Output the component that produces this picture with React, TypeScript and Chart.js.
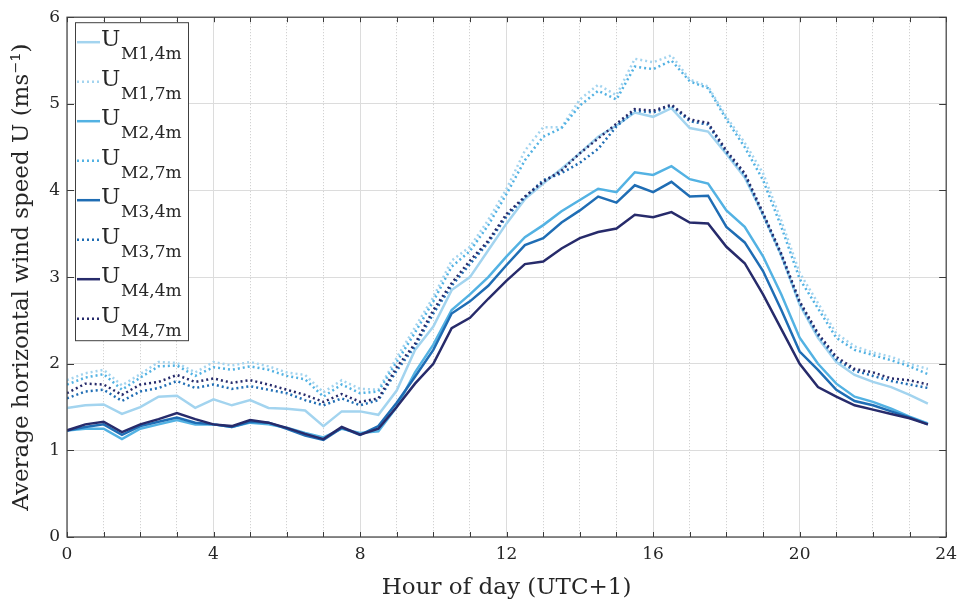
import { useEffect, useRef } from 'react';
import { Chart, registerables } from 'chart.js';

Chart.register(...registerables);

const hours = [0, 0.5, 1, 1.5, 2, 2.5, 3, 3.5, 4, 4.5, 5, 5.5, 6, 6.5, 7, 7.5, 8, 8.5, 9, 9.5, 10, 10.5, 11, 11.5,
  12, 12.5, 13, 13.5, 14, 14.5, 15, 15.5, 16, 16.5, 17, 17.5, 18, 18.5, 19, 19.5, 20, 20.5, 21, 21.5, 22, 22.5, 23, 23.5];

const seriesLabels = ['M1,4m', 'M1,7m', 'M2,4m', 'M2,7m', 'M3,4m', 'M3,7m', 'M4,4m', 'M4,7m'];

const M1_4m = [1.49, 1.52, 1.53, 1.42, 1.50, 1.62, 1.63, 1.49, 1.59, 1.52, 1.58, 1.49, 1.48, 1.46, 1.28, 1.45, 1.45, 1.41,
  1.69, 2.16, 2.43, 2.85, 3.00, 3.31, 3.62, 3.90, 4.08, 4.25, 4.43, 4.62, 4.75, 4.90, 4.85, 4.95, 4.72, 4.68, 4.42, 4.15,
  3.72, 3.25, 2.68, 2.30, 2.02, 1.87, 1.79, 1.73, 1.64, 1.54];
const M1_7m = [1.81, 1.89, 1.93, 1.75, 1.88, 2.02, 2.01, 1.90, 2.02, 1.98, 2.02, 1.97, 1.90, 1.87, 1.67, 1.81, 1.71, 1.70,
  2.07, 2.42, 2.77, 3.19, 3.35, 3.66, 4.02, 4.46, 4.73, 4.73, 5.05, 5.22, 5.10, 5.52, 5.48, 5.56, 5.28, 5.20, 4.85, 4.55,
  4.20, 3.65, 3.05, 2.70, 2.35, 2.20, 2.13, 2.08, 2.00, 1.94];
const M2_4m = [1.23, 1.25, 1.25, 1.13, 1.25, 1.30, 1.35, 1.30, 1.30, 1.27, 1.32, 1.30, 1.26, 1.20, 1.15, 1.25, 1.20, 1.22,
  1.50, 1.90, 2.22, 2.62, 2.80, 3.00, 3.24, 3.46, 3.60, 3.76, 3.89, 4.02, 3.98, 4.21, 4.18, 4.28, 4.13, 4.08, 3.77, 3.58,
  3.24, 2.80, 2.30, 2.00, 1.77, 1.62, 1.56, 1.48, 1.39, 1.31];
const M2_7m = [1.76, 1.84, 1.88, 1.70, 1.84, 1.97, 1.98, 1.86, 1.96, 1.93, 1.97, 1.93, 1.86, 1.82, 1.62, 1.76, 1.66, 1.68,
  2.02, 2.36, 2.72, 3.12, 3.30, 3.60, 3.96, 4.35, 4.62, 4.72, 4.98, 5.15, 5.05, 5.43, 5.40, 5.50, 5.26, 5.18, 4.82, 4.50,
  4.12, 3.58, 2.98, 2.64, 2.30, 2.16, 2.10, 2.04, 1.97, 1.88];
const M3_4m = [1.23, 1.27, 1.30, 1.18, 1.28, 1.33, 1.38, 1.32, 1.30, 1.27, 1.33, 1.32, 1.25, 1.17, 1.12, 1.26, 1.18, 1.28,
  1.55, 1.85, 2.16, 2.58, 2.72, 2.90, 3.14, 3.37, 3.45, 3.63, 3.77, 3.93, 3.86, 4.06, 3.98, 4.10, 3.93, 3.94, 3.58, 3.40,
  3.07, 2.62, 2.14, 1.93, 1.70, 1.57, 1.52, 1.45, 1.38, 1.30];
const M3_7m = [1.60, 1.68, 1.70, 1.57, 1.68, 1.72, 1.80, 1.72, 1.76, 1.71, 1.74, 1.70, 1.66, 1.58, 1.52, 1.60, 1.52, 1.58,
  1.92, 2.20, 2.58, 2.90, 3.15, 3.40, 3.70, 3.92, 4.12, 4.20, 4.32, 4.48, 4.74, 4.92, 4.90, 4.98, 4.80, 4.76, 4.44, 4.18,
  3.72, 3.25, 2.70, 2.33, 2.05, 1.92, 1.86, 1.80, 1.76, 1.72];
const M4_4m = [1.23, 1.30, 1.33, 1.21, 1.30, 1.36, 1.43, 1.36, 1.30, 1.28, 1.35, 1.32, 1.26, 1.19, 1.13, 1.27, 1.18, 1.25,
  1.50, 1.77, 2.00, 2.41, 2.53, 2.75, 2.96, 3.15, 3.18, 3.33, 3.45, 3.52, 3.56, 3.72, 3.69, 3.75, 3.63, 3.62, 3.35, 3.16,
  2.80, 2.40, 2.00, 1.73, 1.62, 1.52, 1.47, 1.42, 1.37, 1.30];
const M4_7m = [1.66, 1.77, 1.76, 1.64, 1.76, 1.79, 1.87, 1.79, 1.83, 1.78, 1.81, 1.76, 1.70, 1.64, 1.56, 1.65, 1.56, 1.60,
  1.96, 2.23, 2.62, 2.93, 3.19, 3.42, 3.73, 3.93, 4.10, 4.23, 4.43, 4.60, 4.77, 4.94, 4.92, 4.99, 4.82, 4.78, 4.46, 4.20,
  3.74, 3.27, 2.72, 2.35, 2.08, 1.94, 1.90, 1.83, 1.81, 1.76];

const FONT = '"DejaVu Serif", serif';
const INK = '#262626';
const MAST_COLORS = ['#a3d4ef', '#53b2e3', '#1f6db4', '#272b6b'];

const decorPlugin = {
  id: 'decor',
  afterDraw(chart: any) {
    const { ctx, chartArea: a, scales } = chart;
    ctx.save();
    // inward ticks
    ctx.strokeStyle = '#3a3a3a';
    ctx.lineWidth = 1;
    ctx.setLineDash([]);
    ctx.beginPath();
    scales.xMinor.ticks.forEach((t: any) => {
      const px = Math.round(scales.xMinor.getPixelForValue(t.value)) + 0.5;
      ctx.moveTo(px, a.bottom);
      ctx.lineTo(px, a.bottom - 5);
      ctx.moveTo(px, a.top);
      ctx.lineTo(px, a.top + 5);
    });
    scales.y.ticks.forEach((t: any) => {
      const py = Math.round(scales.y.getPixelForValue(t.value)) + 0.5;
      ctx.moveTo(a.left, py);
      ctx.lineTo(a.left + 7, py);
      ctx.moveTo(a.right, py);
      ctx.lineTo(a.right - 7, py);
    });
    ctx.stroke();
    ctx.strokeStyle = '#404040';
    ctx.lineWidth = 1.2;
    ctx.strokeRect(a.left, a.top, a.right - a.left, a.bottom - a.top);

    // legend with subscripts
    const ds = chart.data.datasets;
    const left = a.left + 8;
    const top = a.top + 5;
    const w = 113;
    const rowH = 39.5;
    const h = rowH * ds.length + 2;
    ctx.fillStyle = '#ffffff';
    ctx.fillRect(left, top, w, h);
    ctx.strokeStyle = '#404040';
    ctx.lineWidth = 1;
    ctx.strokeRect(left + 0.5, top + 0.5, w, h);
    ds.forEach((d: any, i: number) => {
      const cy = top + 20 + i * rowH;
      ctx.strokeStyle = d.borderColor;
      ctx.lineWidth = 2.5;
      ctx.setLineDash(d.borderDash || []);
      ctx.beginPath();
      ctx.moveTo(left + 2, cy);
      ctx.lineTo(left + 25, cy);
      ctx.stroke();
      ctx.setLineDash([]);
      ctx.fillStyle = INK;
      ctx.textAlign = 'left';
      ctx.textBaseline = 'alphabetic';
      ctx.font = `23px ${FONT}`;
      ctx.fillText('U', left + 26, cy + 4);
      ctx.font = `17px ${FONT}`;
      ctx.fillText(seriesLabels[i], left + 46, cy + 17);
    });
    ctx.restore();
  },
};

export default function App() {
  const ref = useRef<HTMLCanvasElement>(null);
  useEffect(() => {
    document.body.style.margin = '0';
    const series = [M1_4m, M1_7m, M2_4m, M2_7m, M3_4m, M3_7m, M4_4m, M4_7m];
    const datasets = series.map((s, i) => ({
      label: 'U ' + seriesLabels[i],
      data: hours.map((hr, j) => ({ x: hr, y: s[j] })),
      borderColor: MAST_COLORS[Math.floor(i / 2)],
      backgroundColor: MAST_COLORS[Math.floor(i / 2)],
      borderWidth: 2.5,
      borderDash: i % 2 === 1 ? [2, 3] : [],
      pointRadius: 0,
      tension: 0,
      fill: false,
      order: series.length - i,
    }));
    const chart = new Chart(ref.current as HTMLCanvasElement, {
      type: 'line',
      data: { datasets },
      plugins: [decorPlugin],
      options: {
        responsive: false,
        animation: false,
        layout: { padding: { top: 17, right: 17, left: 0, bottom: 0 } },
        plugins: { legend: { display: false }, tooltip: { enabled: false } },
        scales: {
          x: {
            type: 'linear',
            position: 'bottom',
            min: 0,
            max: 24,
            ticks: { stepSize: 4, font: { family: FONT, size: 17 }, color: INK, padding: 7, maxRotation: 0, autoSkip: false },
            grid: { color: '#dcdcdc', lineWidth: 1, drawTicks: false },
            border: { display: false },
            title: { display: true, text: 'Hour of day (UTC+1)', font: { family: FONT, size: 23 }, color: INK, padding: { top: 0, bottom: 5 } },
            afterFit: (s: any) => { s.height = 70; },
          },
          xMinor: {
            type: 'linear',
            position: 'bottom',
            min: 0,
            max: 24,
            ticks: { display: false, stepSize: 1 },
            grid: {
              color: (c: any) => (c.tick && c.tick.value % 4 === 0 ? 'rgba(0,0,0,0)' : '#c8c8c8'),
              lineWidth: 1,
              drawTicks: false,
            },
            border: { display: false, dash: [1, 2] },
            afterFit: (s: any) => { s.height = 0; },
          },
          y: {
            min: 0,
            max: 6,
            ticks: { stepSize: 1, font: { family: FONT, size: 17 }, color: INK, padding: 7 },
            grid: { color: '#dcdcdc', lineWidth: 1, drawTicks: false },
            border: { display: false },
            title: { display: true, text: 'Average horizontal wind speed U (ms⁻¹)', font: { family: FONT, size: 23 }, color: INK, padding: { top: 8, bottom: 0 } },
            afterFit: (s: any) => { s.width = 67; },
          },
        },
      } as any,
    });
    return () => chart.destroy();
  }, []);
  return (
    <div style={{ width: 964, height: 607 }}>
      <canvas ref={ref} width={964} height={607} />
    </div>
  );
}
